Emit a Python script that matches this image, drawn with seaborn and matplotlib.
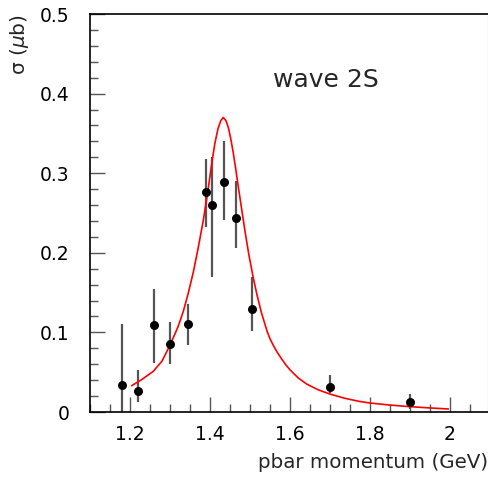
import matplotlib
matplotlib.use("Agg")
import matplotlib.pyplot as plt
import seaborn as sns
import pandas as pd
from matplotlib.ticker import MultipleLocator, FixedLocator, FixedFormatter

# data points
mom = [1.18, 1.22, 1.26, 1.30, 1.345, 1.39, 1.405, 1.435, 1.465, 1.505, 1.70, 1.90]
sigma = [0.034, 0.027, 0.109, 0.086, 0.110, 0.276, 0.260, 0.289, 0.244, 0.129, 0.031, 0.012]
err_lo_bound = [0.0, 0.012, 0.062, 0.060, 0.084, 0.233, 0.169, 0.241, 0.206, 0.102, 0.024, 0.004]
err_hi_bound = [0.111, 0.053, 0.155, 0.113, 0.136, 0.318, 0.320, 0.341, 0.290, 0.170, 0.046, 0.023]

# fitted curve
fit_x = [1.204, 1.23, 1.258, 1.28, 1.30, 1.32, 1.333, 1.345, 1.358, 1.37, 1.383, 1.394,
         1.404, 1.412, 1.42, 1.427, 1.433, 1.44, 1.446, 1.452, 1.458, 1.465, 1.471, 1.48,
         1.4875, 1.497, 1.508, 1.518, 1.529, 1.543, 1.55, 1.558, 1.568, 1.58, 1.59, 1.60,
         1.62, 1.642, 1.67, 1.70, 1.735, 1.771, 1.80, 1.85, 1.90, 1.95, 1.996]
fit_y = [0.033, 0.041, 0.051, 0.064, 0.084, 0.107, 0.126, 0.148, 0.175, 0.205, 0.240, 0.275,
         0.311, 0.337, 0.356, 0.366, 0.370, 0.366, 0.357, 0.343, 0.326, 0.303, 0.282, 0.252,
         0.227, 0.198, 0.169, 0.146, 0.124, 0.101, 0.092, 0.084, 0.075, 0.066, 0.059, 0.053,
         0.043, 0.035, 0.028, 0.0225, 0.0175, 0.0135, 0.0113, 0.0087, 0.0067, 0.0051, 0.0038]

xticks = [1.2, 1.4, 1.6, 1.8, 2.0]
xticklabels = ["1.2", "1.4", "1.6", "1.8", "2"]
yticks = [0, 0.1, 0.2, 0.3, 0.4, 0.5]
yticklabels = ["0", "0.1", "0.2", "0.3", "0.4", "0.5"]

sns.set_style("white")
plt.rcParams['font.family'] = ['DejaVu Sans']

W, H = 489, 478
fig = plt.figure(figsize=(W / 100, H / 100), dpi=100)
ax = fig.add_axes([90 / W, 66 / H, 398 / W, 398 / H])

pts = pd.DataFrame({"mom": mom, "sigma": sigma,
                    "lo": err_lo_bound, "hi": err_hi_bound})
fit = pd.DataFrame({"x": fit_x, "y": fit_y})

yerr = [pts["sigma"] - pts["lo"], pts["hi"] - pts["sigma"]]
ax.errorbar(pts["mom"], pts["sigma"], yerr=yerr, fmt="none",
            ecolor="#555555", elinewidth=1.6, capsize=0, zorder=2)
sns.lineplot(data=fit, x="x", y="y", ax=ax, color="red", linewidth=1.2,
             sort=False, zorder=3)
sns.scatterplot(data=pts, x="mom", y="sigma", ax=ax, color="black", s=42,
                edgecolor="black", linewidth=0, zorder=4)

ax.set_xlim(1.1, 2.095)
ax.set_ylim(0, 0.5)

ax.xaxis.set_major_locator(FixedLocator(xticks))
ax.xaxis.set_major_formatter(FixedFormatter(xticklabels))
ax.yaxis.set_major_locator(FixedLocator(yticks))
ax.yaxis.set_major_formatter(FixedFormatter(yticklabels))
ax.xaxis.set_minor_locator(MultipleLocator(0.05))
ax.yaxis.set_minor_locator(MultipleLocator(0.02))

ax.tick_params(axis="both", which="major", direction="in", length=11, width=1.0,
               color="#555555", labelsize=13.5, labelcolor="black")
ax.tick_params(axis="both", which="minor", direction="in", length=5.8, width=1.0,
               color="#555555")
ax.tick_params(axis="x", which="major", pad=9)
ax.tick_params(axis="y", which="major", pad=15)
ax.tick_params(top=False, right=False, bottom=True, left=True, which="both")

for s in ["left", "bottom", "top"]:
    ax.spines[s].set_color("black")
    ax.spines[s].set_linewidth(1.2)
ax.spines["right"].set_color("#dddddd")
ax.spines["right"].set_linewidth(1.0)

ax.set_xlabel("pbar momentum (GeV)", fontsize=14.3, loc="right", labelpad=7)
ax.set_ylabel(r"σ ($\mu$b)", fontsize=14.5, loc="top", labelpad=6)

ax.text(1.69, 0.417, "wave 2S", fontsize=18, ha="center", va="center")

fig.savefig("out.png", dpi=100)
